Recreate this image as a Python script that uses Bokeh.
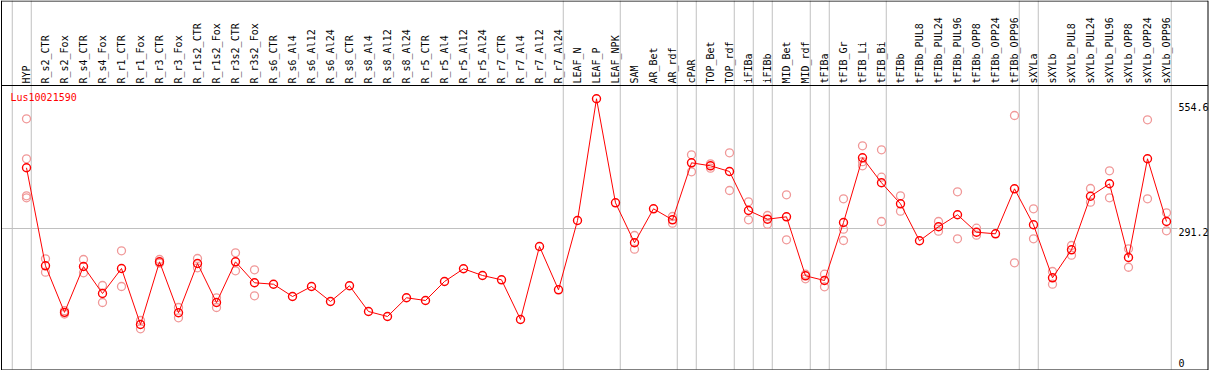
import numpy as np
from bokeh.plotting import figure
from bokeh.models import Range1d, ColumnDataSource
from bokeh.core.properties import value
from bokeh.embed import file_html
from bokeh.resources import INLINE

# ---------------- data ----------------
gene = "Lus10021590"

categories = [
    "HYP",
    "R_s2_CTR", "R_s2_Fox", "R_s4_CTR", "R_s4_Fox", "R_r1_CTR", "R_r1_Fox",
    "R_r3_CTR", "R_r3_Fox", "R_r1s2_CTR", "R_r1s2_Fox", "R_r3s2_CTR", "R_r3s2_Fox",
    "R_s6_CTR", "R_s6_Al4", "R_s6_Al12", "R_s6_Al24",
    "R_s8_CTR", "R_s8_Al4", "R_s8_Al12", "R_s8_Al24",
    "R_r5_CTR", "R_r5_Al4", "R_r5_Al12", "R_r5_Al24",
    "R_r7_CTR", "R_r7_Al4", "R_r7_Al12", "R_r7_Al24",
    "LEAF_N", "LEAF_P", "LEAF_NPK",
    "SAM", "AR_Bet", "AR_rdf",
    "cPAR", "TOP_Bet", "TOP_rdf",
    "iFIBa", "iFIBb", "MID_Bet", "MID_rdf",
    "tFIBa", "tFIB_Gr", "tFIB_Li", "tFIB_Bi",
    "tFIBb", "tFIBb_PUL8", "tFIBb_PUL24", "tFIBb_PUL96",
    "tFIBb_OPP8", "tFIBb_OPP24", "tFIBb_OPP96",
    "sXYLa", "sXYLb", "sXYLb_PUL8", "sXYLb_PUL24", "sXYLb_PUL96",
    "sXYLb_OPP8", "sXYLb_OPP24", "sXYLb_OPP96",
]

means = [
    419.1,
    212.6, 114.5, 211.1, 154.2, 206.9, 88.9,
    221.0, 113.6, 217.4, 135.3, 221.0, 176.8,
    173.8, 147.9, 169.0, 137.4,
    170.5, 116.3, 105.8, 145.2,
    139.5, 179.5, 206.3, 192.2,
    183.1, 99.5, 253.3, 162.0,
    308.0, 564.5, 345.3,
    261.1, 332.7, 309.5,
    429.6, 423.3, 411.3,
    329.1, 310.8, 315.8, 191.5,
    181.6, 303.8, 440.2, 387.5,
    343.2, 265.3, 294.8, 320.1,
    283.4, 280.0, 374.8,
    299.0, 187.3, 246.3, 359.2, 385.4,
    230.1, 438.1, 305.9,
]

replicates = [
    [522.3, 438.1, 360.1, 355.9],
    [227.3, 199.1], [118.0, 111.0], [225.9, 197.8], [171.1, 135.3], [244.2, 169.0], [97.3, 79.9],
    [225.9, 218.1], [124.7, 103.0], [228.0, 208.4], [145.2, 124.7], [240.0, 202.1], [204.2, 149.4],
    [], [], [], [],
    [], [], [], [],
    [], [], [], [],
    [], [], [], [],
    [], [], [],
    [276.4, 247.6], [], [316.5, 302.4],
    [446.5, 410.7], [427.5, 418.2], [450.7, 371.3],
    [347.4, 309.5], [318.6, 300.2], [362.2, 267.4], [194.9, 185.2],
    [194.9, 168.3], [353.8, 289.7, 265.9], [465.4, 423.3, 431.9], [457.0, 399.3, 305.9],
    [360.1, 327.6], [], [305.9, 285.5], [368.5, 269.5],
    [291.8, 277.1], [], [529.3, 218.9],
    [332.7, 269.5], [200.6, 173.8], [255.4, 234.9], [375.5, 346.6], [412.8, 355.9],
    [248.4, 209.6], [520.2, 353.8], [324.3, 286.3],
]

group_sizes = [1, 28, 3, 3, 1, 2, 1, 1, 2, 1, 3, 7, 1, 7]

tick_values = [554.6, 291.2]
tick_labels = ["554.6", "291.2"]
zero_value = [0]
zero_label = ["0"]

# ---------------- layout ----------------
REF_W, REF_H = 1209, 370
W, H = 1209, 370
X0_REF, DX_REF = 26.0, 19.0          # reference pixel position of first category, spacing
VAL_TOP, VAL_BOTTOM = 771.6, -8.0    # values at top / bottom edge of the frame

FONT = value("DejaVu Sans Mono")
RED = "#ff0000"
PINK = "#f09898"
GRID = "#c0c0c0"

xi = list(range(len(categories)))

p = figure(
    width=W, height=H,
    x_range=Range1d((0 - X0_REF) / DX_REF, (REF_W - X0_REF) / DX_REF),
    y_range=Range1d(VAL_BOTTOM, VAL_TOP),
    output_backend="svg", toolbar_location=None,
    x_axis_location=None, y_axis_location=None,
    min_border=0, outline_line_color=None,
    background_fill_color="white", border_fill_color="white",
)
p.grid.visible = False
p.extra_x_ranges = {"px": Range1d(0, REF_W)}
p.extra_y_ranges = {"py": Range1d(REF_H, 0)}

# group separators (vertical grey lines)
bounds = [-1]
for g in group_sizes:
    bounds.append(bounds[-1] + g)
sep_x = [b + 0.25 for b in bounds]
p.segment(x0=sep_x, y0=[0] * len(sep_x), x1=sep_x, y1=[369] * len(sep_x),
          y_range_name="py", line_color=GRID, line_width=1)

# horizontal reference line at middle tick
p.segment(x0=[1], y0=[tick_values[1]], x1=[1177], y1=[tick_values[1]],
          x_range_name="px", line_color=GRID, line_width=1)

# frame and header separator
p.segment(x0=[1, 1, 1207.5, 1, 1], y0=[0.5, 0, 0, 369.5, 85],
          x1=[1207.5, 1, 1207.5, 1207.5, 1207.5], y1=[0.5, 370, 370, 369.5, 85],
          x_range_name="px", y_range_name="py", line_color="black", line_width=1)

# header labels
p.text(x=xi, y=[83] * len(xi), text=categories, y_range_name="py",
       angle=np.pi / 2, text_align="left", text_baseline="middle",
       text_font=FONT, text_font_size="10px", text_color="black")

# gene label
p.text(x=[10], y=[91], text=[gene], x_range_name="px", y_range_name="py",
       text_align="left", text_baseline="top",
       text_font=FONT, text_font_size="10px", text_color=RED)

# tick labels
p.text(x=[1178] * len(tick_values), y=tick_values, text=tick_labels, x_range_name="px",
       text_align="left", text_baseline="top",
       text_font=FONT, text_font_size="10px", text_color="black")
p.text(x=[1178], y=zero_value, text=zero_label, x_range_name="px",
       text_align="left", text_baseline="bottom",
       text_font=FONT, text_font_size="10px", text_color="black")

# replicate points
rx, ry = [], []
for i, reps in enumerate(replicates):
    for r in reps:
        rx.append(i)
        ry.append(r)
rep_src = ColumnDataSource(dict(x=rx, y=ry))
p.scatter("x", "y", source=rep_src, marker="circle", size=8,
          fill_color=None, line_color=PINK, line_width=1.3)

# mean line + points
mean_src = ColumnDataSource(dict(x=xi, y=means))
p.line("x", "y", source=mean_src, line_color=RED, line_width=1)
p.scatter("x", "y", source=mean_src, marker="circle", size=8,
          fill_color=None, line_color=RED, line_width=1.4)

open("out.html", "w").write(file_html(p, INLINE))
